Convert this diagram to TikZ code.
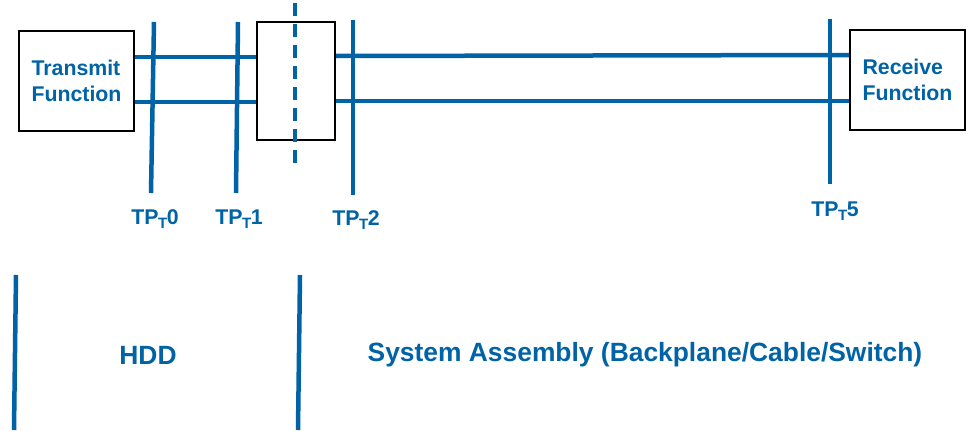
\documentclass[tikz,border=0pt]{standalone}
\usepackage{fontspec}
\setmainfont{Liberation Sans}
\definecolor{tpblue}{RGB}{0,99,166}
\newcommand{\tpsub}[1]{TP\kern-0.5pt\raisebox{-4.5pt}{\fontsize{15}{15}\selectfont T}\kern-0.5pt#1}
\begin{document}
\begin{tikzpicture}[x=1pt,y=-1pt,
  box/.style={draw=black,line width=2pt,fill=white,inner sep=0pt},
  wire/.style={draw=tpblue,line width=4.5pt},
  probe/.style={draw=tpblue,line width=4.5pt},
  lbl/.style={text=tpblue,font=\bfseries\fontsize{21.3}{26}\selectfont,align=left},
  big/.style={text=tpblue,font=\bfseries\fontsize{26.4}{30}\selectfont}]
\useasboundingbox (0,0) rectangle (972,431);
% boxes
\node[box,minimum width=115pt,minimum height=100pt] (tx) at (76.5,81) {};
\node[lbl] at (tx.center) {Transmit\\Function};
\node[box,minimum width=78pt,minimum height=118pt] (mid) at (296,81) {};
\node[box,minimum width=115pt,minimum height=100pt] (rx) at (907.5,80) {};
\node[lbl] at (rx.center) {Receive\\Function};
% wires
\draw[wire] (tx.east |- 0,57) -- (mid.west |- 0,57);
\draw[wire] (tx.east |- 0,102) -- (mid.west |- 0,102);
\draw[wire] (mid.east |- 0,56) -- (rx.west |- 0,55);
\draw[wire] (mid.east |- 0,101) -- (rx.west |- 0,101);
% dashed center line
\coordinate (dt) at (295,3);
\coordinate (db) at (295,164);
\draw[tpblue,line width=4pt,dash pattern=on 13pt off 8pt] (dt) -- (db);
% probes
\coordinate (p0t) at (154,22); \coordinate (p0b) at (151,193);
\coordinate (p1t) at (238,22); \coordinate (p1b) at (236,193);
\coordinate (p2t) at (353,20); \coordinate (p2b) at (353,195);
\coordinate (p5t) at (830,19); \coordinate (p5b) at (830,184);
\draw[probe] (p0t) -- (p0b);
\draw[probe] (p1t) -- (p1b);
\draw[probe] (p2t) -- (p2b);
\draw[probe] (p5t) -- (p5b);
\node[lbl] (l0) at (155,219) {\tpsub{0}};
\node[lbl] (l1) at (239,219) {\tpsub{1}};
\node[lbl] (l2) at (356,220) {\tpsub{2}};
\node[lbl] (l5) at (835,211) {\tpsub{5}};
% bottom section
\coordinate (b1t) at (16,275); \coordinate (b1b) at (14,430);
\coordinate (b2t) at (300,275); \coordinate (b2b) at (298,430);
\draw[probe] (b1t) -- (b1b);
\draw[probe] (b2t) -- (b2b);
\node[big] (hdd) at (148,355) {HDD};
\node[big] (sys) at (645,355) {System Assembly (Backplane/Cable/Switch)};
\end{tikzpicture}
\end{document}
